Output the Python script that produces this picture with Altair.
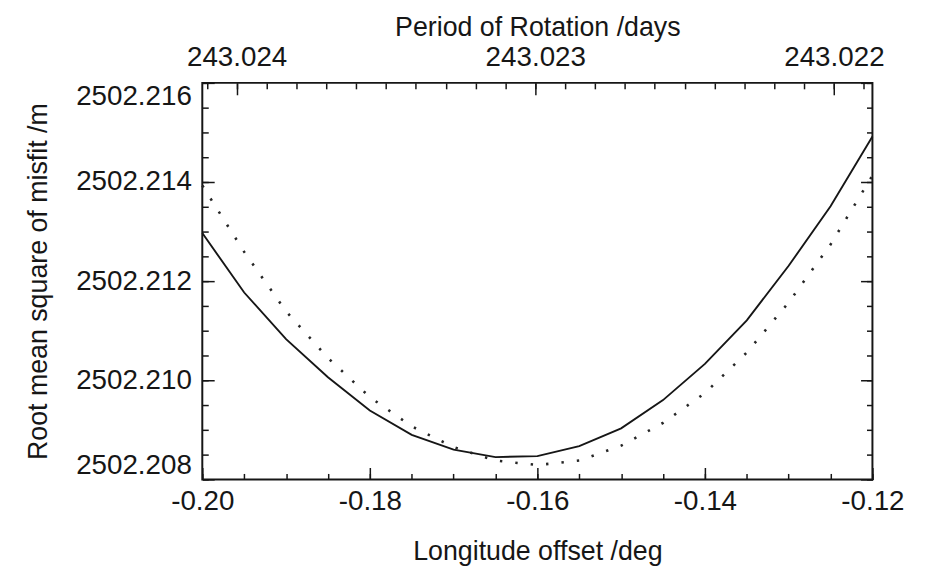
import altair as alt
import pandas as pd

# ---- data ----
lon = [-0.200, -0.195, -0.190, -0.185, -0.180, -0.175, -0.170, -0.165, -0.160,
       -0.155, -0.150, -0.145, -0.140, -0.135, -0.130, -0.125, -0.120]
rms_solid = [2502.21297, 2502.21177, 2502.21083, 2502.21006, 2502.20939, 2502.20890,
             2502.20860, 2502.20845, 2502.20847, 2502.20867, 2502.20903, 2502.20960,
             2502.21033, 2502.21121, 2502.21231, 2502.21351, 2502.21492]
rms_dotted = [2502.21393, 2502.21259, 2502.21139, 2502.21045, 2502.20966, 2502.20907,
              2502.20865, 2502.20838, 2502.20829, 2502.20838, 2502.20868, 2502.20914,
              2502.20974, 2502.21056, 2502.21157, 2502.21274, 2502.21413]

x_major = [-0.20, -0.18, -0.16, -0.14, -0.12]
x_minor = [-0.200, -0.195, -0.190, -0.185, -0.180, -0.175, -0.170, -0.165, -0.160,
           -0.155, -0.150, -0.145, -0.140, -0.135, -0.130, -0.125, -0.120]
y_major = [2502.208, 2502.210, 2502.212, 2502.214, 2502.216]
y_minor = [2502.2080, 2502.2085, 2502.2090, 2502.2095, 2502.2100, 2502.2105,
           2502.2110, 2502.2115, 2502.2120, 2502.2125, 2502.2130, 2502.2135,
           2502.2140, 2502.2145, 2502.2150, 2502.2155, 2502.2160]
p_major = [243.024, 243.023, 243.022]
p_minor = [243.0219, 243.0220, 243.0221, 243.0222, 243.0223, 243.0224, 243.0225,
           243.0226, 243.0227, 243.0228, 243.0229, 243.0230, 243.0231, 243.0232,
           243.0233, 243.0234, 243.0235, 243.0236, 243.0237, 243.0238, 243.0239,
           243.0240, 243.0241]

X_DOM = [-0.20, -0.12]
Y_DOM = [2502.208, 2502.216]
P_LEFT, P_RIGHT = 243.024115, 243.021871   # period at left / right edge

df = pd.DataFrame({"lon": lon, "solid": rms_solid, "dotted": rms_dotted})

INK = "#161616"
FONT = "Liberation Sans"
MAJ, MIN = 12, 6

xs = alt.Scale(domain=X_DOM, nice=False, zero=False)
ys = alt.Scale(domain=Y_DOM, nice=False, zero=False)
ps = alt.Scale(domain=[P_RIGHT, P_LEFT], nice=False, zero=False, reverse=True)

minus_fix = "replace(format(datum.value, '.2f'), '\u2212', '-')"


def tick_axis(orient, values, size):
    return alt.Axis(orient=orient, values=values, labels=False, domain=False,
                    grid=False, ticks=True, tickSize=size, offset=-size,
                    tickColor=INK, tickWidth=1.5, title=None)


base = alt.Chart(df)

# solid line with the labelled bottom / left axes
l1 = base.mark_line(color=INK, strokeWidth=1.9).encode(
    x=alt.X("lon:Q", scale=xs, axis=alt.Axis(
        orient="bottom", values=x_major, ticks=False, domain=False, grid=False,
        labelExpr=minus_fix, labelFlush=False, labelOverlap=False,
        labelPadding=8, title="Longitude offset /deg", titlePadding=24)),
    y=alt.Y("solid:Q", scale=ys, axis=alt.Axis(
        orient="left", values=y_major, format=".3f", ticks=False, domain=False,
        grid=False, labelFlush=True, labelOverlap=False, labelPadding=11,
        title="Root mean square of misfit /m", titlePadding=23)),
)

# dotted line + major ticks bottom / left
l2 = base.mark_line(color="#262626", strokeWidth=2.6, strokeDash=[2.4, 13.2]).encode(
    x=alt.X("lon:Q", scale=xs, axis=tick_axis("bottom", x_major, MAJ)),
    y=alt.Y("dotted:Q", scale=ys, axis=tick_axis("left", y_major, MAJ)),
)

# minor ticks bottom / left
l3 = base.mark_line(strokeOpacity=0).encode(
    x=alt.X("lon:Q", scale=xs, axis=tick_axis("bottom", x_minor, MIN)),
    y=alt.Y("solid:Q", scale=ys, axis=tick_axis("left", y_minor, MIN)),
)

pbase = base.transform_calculate(
    period=f"{P_LEFT} + (datum.lon - ({X_DOM[0]})) / ({X_DOM[1] - X_DOM[0]}) * ({P_RIGHT - P_LEFT})"
)

# top labelled axis + right major ticks
l4 = pbase.mark_line(strokeOpacity=0).encode(
    x=alt.X("period:Q", scale=ps, axis=alt.Axis(
        orient="top", values=p_major, format=".3f", ticks=False, domain=False,
        grid=False, labelFlush=False, labelOverlap=False, labelPadding=12,
        title="Period of Rotation /days", titlePadding=2)),
    y=alt.Y("solid:Q", scale=ys, axis=tick_axis("right", y_major, MAJ)),
)

# top major ticks + right minor ticks
l5 = pbase.mark_line(strokeOpacity=0).encode(
    x=alt.X("period:Q", scale=ps, axis=tick_axis("top", p_major, MAJ)),
    y=alt.Y("solid:Q", scale=ys, axis=tick_axis("right", y_minor, MIN)),
)

# top minor ticks
l6 = pbase.mark_line(strokeOpacity=0).encode(
    x=alt.X("period:Q", scale=ps, axis=tick_axis("top", p_minor, MIN)),
    y=alt.Y("solid:Q", scale=ys, axis=None),
)

chart = (
    alt.layer(l1, l2, l3, l4, l5, l6)
    .resolve_scale(x="independent", y="independent")
    .properties(
        width=676, height=400,
        autosize=alt.AutoSizeParams(type="none"),
        padding={"left": 196, "top": 73, "right": 50, "bottom": 104},
        background="white",
    )
    .configure_view(stroke=INK, strokeWidth=2)
    .configure_axis(
        labelFont=FONT, titleFont=FONT, labelFontSize=28, titleFontSize=27,
        titleFontWeight="normal", labelColor=INK, titleColor=INK,
    )
)

chart.save("out.html", embed_options={"renderer": "svg", "actions": False})
